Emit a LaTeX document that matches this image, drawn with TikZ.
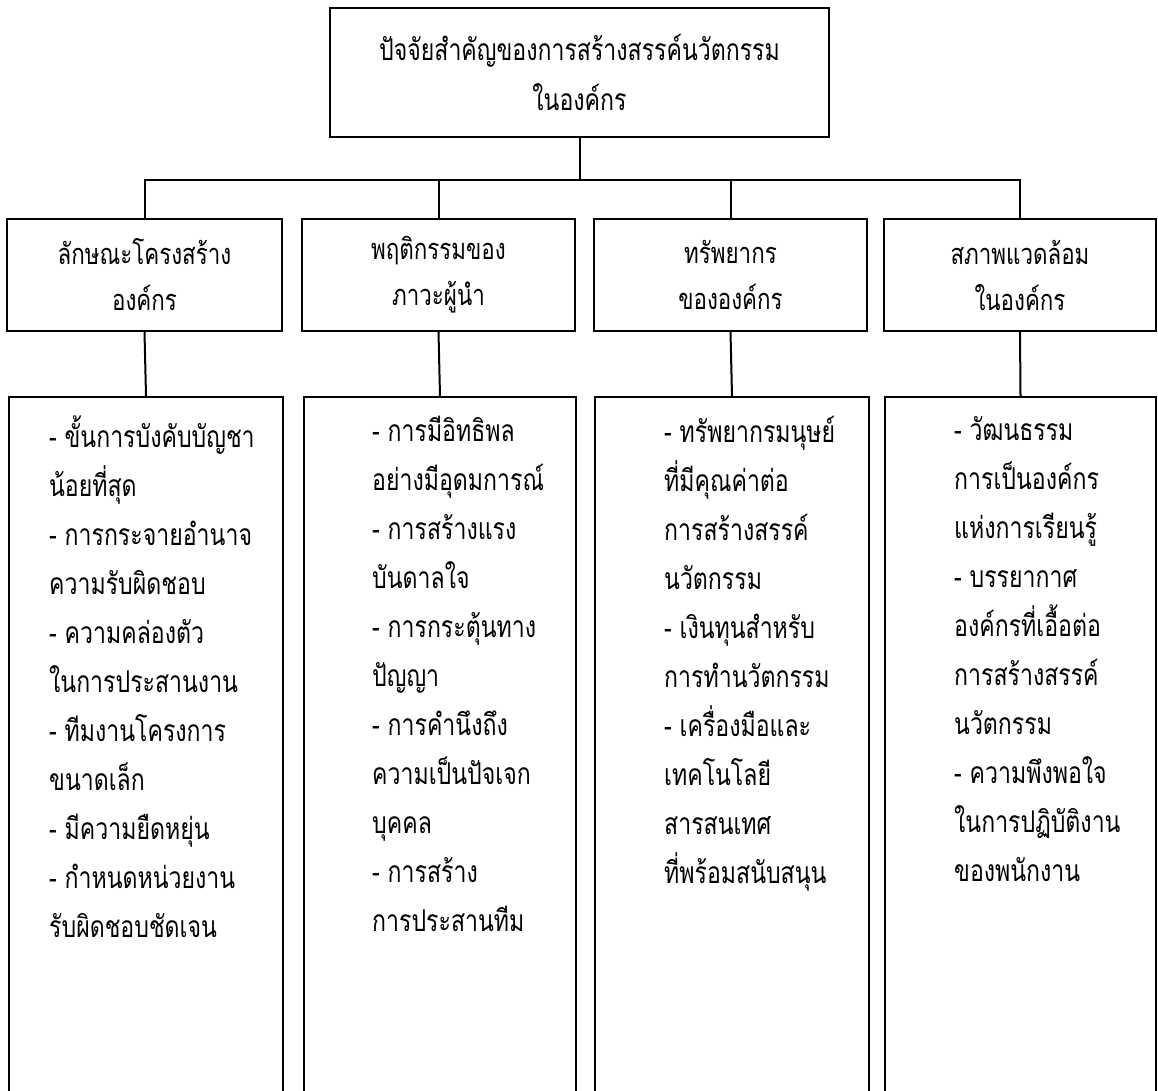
\documentclass[tikz,border=0pt]{standalone}
\usepackage{fontspec}
\newfontfamily\thaifont[Script=Thai,FakeStretch=0.77]{Loma}
\tikzset{
  box/.style={draw, line width=2pt, inner sep=0pt},
  head/.style={box, minimum width=499pt, minimum height=129pt, align=center,
    font=\thaifont\fontsize{30}{50}\selectfont},
  factor/.style={box, minimum height=112pt, align=center,
    font=\thaifont\fontsize{29}{46}\selectfont},
  detail/.style={box, minimum height=720pt},
  items/.style={anchor=north west, inner sep=0pt, align=left,
    font=\thaifont\fontsize{30}{49}\selectfont},
  link/.style={line width=2pt}
}
\begin{document}
\begin{tikzpicture}[x=1pt,y=1pt]
        \useasboundingbox (0,0) rectangle (1158,1090);
        %% Main factor
        \node[head] (top) at (579.5,1017.5) {ปัจจัยสำคัญของการสร้างสรรค์นวัตกรรม\\ในองค์กร};
        %% Factors
        \node[factor, minimum width=275pt] (c1) at (144.5,815) {ลักษณะโครงสร้าง\\องค์กร};
        \node[factor, minimum width=273pt] (c2) at (438.5,815) {พฤติกรรมของ\\ภาวะผู้นำ};
        \node[factor, minimum width=273pt] (c3) at (730.5,815) {ทรัพยากร\\ขององค์กร};
        \node[factor, minimum width=272pt] (c4) at (1020,815) {สภาพแวดล้อม\\ในองค์กร};
        %% Detail boxes
        \node[detail, minimum width=274pt, anchor=north] (d1) at (146,694) {};
        \node[detail, minimum width=272pt, anchor=north] (d2) at (440,694) {};
        \node[detail, minimum width=274pt, anchor=north] (d3) at (732,694) {};
        \node[detail, minimum width=271pt, anchor=north] (d4) at (1020.5,694) {};
        %% Lists
        \node[items] (l1) at ([shift={(41,-20)}]d1.north west) {- ขั้นการบังคับบัญชา\\น้อยที่สุด\\- การกระจายอำนาจ\\ความรับผิดชอบ\\- ความคล่องตัว\\ในการประสานงาน\\- ทีมงานโครงการ\\ขนาดเล็ก\\- มีความยืดหยุ่น\\- กำหนดหน่วยงาน\\รับผิดชอบชัดเจน};
        \node[items] (l2) at ([shift={(69,-20)}]d2.north west) {- การมีอิทธิพล\\อย่างมีอุดมการณ์\\- การสร้างแรง\\บันดาลใจ\\- การกระตุ้นทาง\\ปัญญา\\- การคำนึงถึง\\ความเป็นปัจเจก\\บุคคล\\- การสร้าง\\การประสานทีม};
        \node[items] (l3) at ([shift={(70,-20)}]d3.north west) {- ทรัพยากรมนุษย์\\ที่มีคุณค่าต่อ\\การสร้างสรรค์\\นวัตกรรม\\- เงินทุนสำหรับ\\การทำนวัตกรรม\\- เครื่องมือและ\\เทคโนโลยี\\สารสนเทศ\\ที่พร้อมสนับสนุน};
        \node[items] (l4) at ([shift={(70,-20)}]d4.north west) {- วัฒนธรรม\\การเป็นองค์กร\\แห่งการเรียนรู้\\- บรรยากาศ\\องค์กรที่เอื้อต่อ\\การสร้างสรรค์\\นวัตกรรม\\- ความพึงพอใจ\\ในการปฏิบัติงาน\\ของพนักงาน};
        %% Connectors
        \draw[link] (top.south) -- ++(0,-42) coordinate (bus);
        \draw[link] (c1.north) |- (bus) -| (c4.north);
        \draw[link] (bus -| c2.north) -- (c2.north);
        \draw[link] (bus -| c3.north) -- (c3.north);
        \foreach \i in {1,...,4}
          \draw[link] (c\i.south) -- (d\i.north);
    \end{tikzpicture}
\end{document}
